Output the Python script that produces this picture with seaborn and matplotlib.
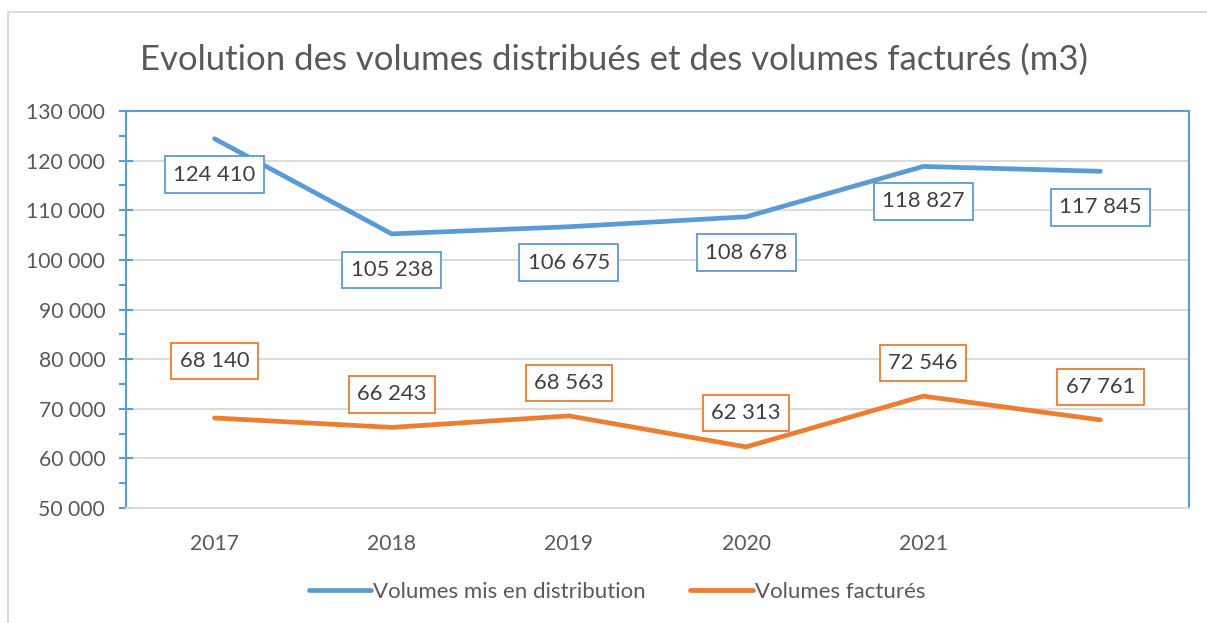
import pandas as pd
import numpy as np
import matplotlib
matplotlib.use("Agg")
import matplotlib.pyplot as plt
import matplotlib.ticker as mticker
from matplotlib.patches import Rectangle
import seaborn as sns

# --- data
annees = ["2017", "2018", "2019", "2020", "2021", "2022"]
tick_labels = ["2017", "2018", "2019", "2020", "2021", ""]
distribution = [124410, 105238, 106675, 108678, 118827, 117845]
factures = [68140, 66243, 68563, 62313, 72546, 67761]
series_names = ["Volumes mis en distribution", "Volumes facturés"]

# label offsets in pixels (dy, screen up positive)
off_distrib = [-36, -36, -36, -36, -35, -36]
off_fact = [57, 33, 33, 34, 33, 33]

df = pd.DataFrame({
    "x": list(range(len(annees))) * 2,
    "volume": distribution + factures,
    "serie": [series_names[0]] * len(annees) + [series_names[1]] * len(annees),
})

sns.set_theme(style="white")
plt.rcParams['font.family'] = ['Lato', 'DejaVu Sans']

blue = "#5B9BD5"
orange = "#ED7D31"
txt = "#595959"

fig = plt.figure(figsize=(12.07, 6.23), dpi=100)
ax = fig.add_axes([126 / 1207, 1 - 508 / 623, (1189 - 126) / 1207, (508 - 111) / 623])

sns.lineplot(data=df, x="x", y="volume", hue="serie", palette=[blue, orange],
             linewidth=3.4, ax=ax, legend=True)
for line in ax.lines:
    line.set_solid_capstyle("round")

ax.set_xlim(-0.5, len(annees) - 0.5)
ax.set_ylim(50000, 130000)
ax.set_xticks(range(len(annees)))
ax.set_xticklabels(tick_labels)
ax.yaxis.set_major_locator(mticker.MultipleLocator(10000))
ax.yaxis.set_minor_locator(mticker.MultipleLocator(5000))
ax.yaxis.set_major_formatter(mticker.FuncFormatter(lambda v, p: f"{int(v):,}".replace(",", " ")))
ax.set_xlabel("")
ax.set_ylabel("")

ax.grid(axis="y", color="#D9D9D9", linewidth=1.3)
ax.set_axisbelow(True)
for s in ["left", "top", "right"]:
    ax.spines[s].set_color(blue)
    ax.spines[s].set_linewidth(1.5)
ax.spines["bottom"].set_color("#D9D9D9")
ax.spines["bottom"].set_linewidth(1.3)

ax.tick_params(axis="y", which="major", direction="inout", length=10, width=1.5,
               color=blue, labelsize=15.2, labelcolor=txt, pad=10, left=True)
ax.tick_params(axis="y", which="minor", direction="out", length=5, width=1.5,
               color=blue, left=True)
ax.tick_params(axis="x", length=0, labelsize=15.2, labelcolor=txt, pad=19)

def fmt(v):
    return f"{v:,}".replace(",", " ")

for i, (v, dy) in enumerate(zip(distribution, off_distrib)):
    ax.annotate(fmt(v), (i, v), xytext=(0, dy * 0.72), textcoords="offset points",
                ha="center", va="center", fontsize=15.8, color="#404040",
                bbox=dict(boxstyle="square,pad=0.38", fc="white", ec=blue, lw=1.3))
for i, (v, dy) in enumerate(zip(factures, off_fact)):
    ax.annotate(fmt(v), (i, v), xytext=(0, dy * 0.72), textcoords="offset points",
                ha="center", va="center", fontsize=15.8, color="#404040",
                bbox=dict(boxstyle="square,pad=0.38", fc="white", ec=orange, lw=1.3))

fig.suptitle("Evolution des volumes distribués et des volumes facturés (m3)",
             x=614 / 1207, y=1 - 60 / 623, va="center", fontsize=25, color=txt)

handles, labels = ax.get_legend_handles_labels()
ax.get_legend().remove()
fig.legend(handles, labels, loc="center", bbox_to_anchor=(617 / 1207, 1 - 592 / 623),
           ncol=2, frameon=False, fontsize=16, labelcolor=txt,
           handlelength=2.8, handletextpad=0.1, columnspacing=2.0)

fig.add_artist(Rectangle((8 / 1207, -0.1), 1.2, 1.1 - 12 / 623, transform=fig.transFigure,
                         fill=False, ec="#D9D9D9", lw=1.3))

fig.savefig("out.png", dpi=100)
